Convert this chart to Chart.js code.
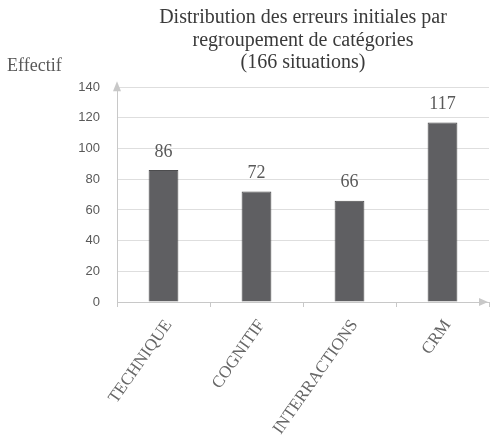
<!DOCTYPE html>
<html>
<head>
    <title>Distribution des erreurs initiales</title>
    <style>
        html, body { margin: 0; padding: 0; background: #fff; }
        #wrap { width: 490px; height: 442px; }
    </style>
</head>
<body>
    <div id="wrap"><canvas id="chart"></canvas></div>

    <script src="https://cdn.jsdelivr.net/npm/chart.js"></script>
    <script>
        const categories = ['TECHNIQUE', 'COGNITIF', 'INTERRACTIONS', 'CRM'];
        const counts = [86, 72, 66, 117];
        const titleLines = ['Distribution des erreurs initiales par', 'regroupement de catégories', '(166 situations)'];
        const yLabel = 'Effectif';

        const serif = '"Liberation Serif", "Times New Roman", serif';
        const sans = '"Liberation Sans", Arial, sans-serif';

        // axis arrows, values over bars, "Effectif" label
        const extras = {
            id: 'extras',
            afterDatasetsDraw(chart) {
                const ctx = chart.ctx;
                const area = chart.chartArea;
                const y = chart.scales.y;

                ctx.save();
                // arrows
                ctx.fillStyle = '#c8c8c8';
                const ax = area.left;
                const top = y.getPixelForValue(140);
                ctx.beginPath();
                ctx.moveTo(ax, top - 6);
                ctx.lineTo(ax - 4, top + 4);
                ctx.lineTo(ax + 4, top + 4);
                ctx.closePath();
                ctx.fill();
                const bottom = y.getPixelForValue(0);
                ctx.beginPath();
                ctx.moveTo(area.right - 1, bottom);
                ctx.lineTo(area.right - 10, bottom - 4);
                ctx.lineTo(area.right - 10, bottom + 4);
                ctx.closePath();
                ctx.fill();

                // values
                ctx.fillStyle = '#595959';
                ctx.font = '18px ' + serif;
                ctx.textAlign = 'center';
                ctx.textBaseline = 'bottom';
                chart.getDatasetMeta(0).data.forEach((bar, i) => {
                    ctx.fillText(String(counts[i]), bar.x, bar.y - 9);
                });

                // y axis name
                ctx.font = '18px ' + serif;
                ctx.textAlign = 'left';
                ctx.textBaseline = 'middle';
                ctx.fillText(yLabel, 7, 66);
                ctx.restore();
            }
        };

        new Chart(document.getElementById('chart'), {
            type: 'bar',
            data: {
                labels: categories,
                datasets: [{
                    data: counts,
                    backgroundColor: '#5f5f62',
                    borderColor: '#4c4c4e',
                    borderWidth: 1,
                    categoryPercentage: 1,
                    barPercentage: 0.32
                }]
            },
            options: {
                responsive: true,
                maintainAspectRatio: false,
                animation: false,
                layout: { padding: { left: 0, right: 1, top: 7, bottom: 0 } },
                plugins: {
                    legend: { display: false },
                    tooltip: { enabled: false },
                    title: {
                        display: true,
                        fullSize: false,
                        text: titleLines,
                        color: '#3a3a3a',
                        font: { family: serif, size: 20, weight: 'normal', lineHeight: 1.12 },
                        padding: { top: 0, bottom: 13 }
                    }
                },
                scales: {
                    x: {
                        grid: {
                            offset: true,
                            drawOnChartArea: false,
                            drawTicks: true,
                            tickLength: 5,
                            color: '#c8c8c8'
                        },
                        border: { color: '#c8c8c8', width: 1 },
                        ticks: {
                            color: '#666',
                            font: { family: serif, size: 17 },
                            minRotation: 55,
                            maxRotation: 55,
                            padding: 9,
                            labelOffset: 5
                        },
                        afterFit(scale) { scale.height = 140; }
                    },
                    y: {
                        min: 0,
                        max: 140,
                        ticks: {
                            stepSize: 20,
                            color: '#595959',
                            font: { family: sans, size: 13 },
                            padding: 17
                        },
                        grid: { color: '#dedede', drawTicks: false },
                        border: { color: '#c8c8c8', width: 1 },
                        afterFit(scale) { scale.width = 117; }
                    }
                }
            },
            plugins: [extras]
        });
    </script>
</body>
</html>
